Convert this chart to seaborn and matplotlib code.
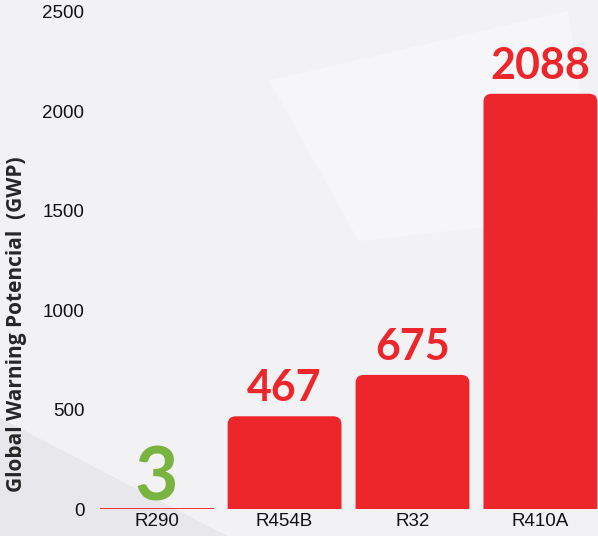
import matplotlib
matplotlib.use("Agg")
import matplotlib.pyplot as plt
import seaborn as sns
import pandas as pd
from matplotlib.patches import FancyBboxPatch, Polygon

# data
refrigerants = ["R290", "R454B", "R32", "R410A"]
gwp_values = [3, 467, 675, 2088]
label_colors = ["#7AB440", "#EC262B", "#EC262B", "#EC262B"]

bar_red = "#EC262B"
bg = "#F2F2F4"

sns.set_style("white")
plt.rcParams["font.family"] = ["Liberation Sans", "DejaVu Sans"]

df = pd.DataFrame({"refrigerant": refrigerants, "gwp": gwp_values})

fig = plt.figure(figsize=(5.98, 5.36), dpi=100, facecolor=bg)

# faint background shapes, drawn behind the chart
bg_ax = fig.add_axes([0, 0, 1, 1], zorder=0)
bg_ax.set_axis_off()
bg_ax.set_xlim(0, 1)
bg_ax.set_ylim(0, 1)
bg_ax.add_patch(Polygon([(0, 0), (0, 0.22), (0.38, 0.0)], closed=True,
                        facecolor="#E8E8EC", edgecolor="none"))
bg_ax.add_patch(Polygon([(0.45, 0.85), (0.95, 0.98), (1.0, 0.6), (0.6, 0.55)],
                        closed=True, facecolor="#F6F6F8", edgecolor="none"))

ax = fig.add_axes([0.155, 0.05, 0.845, 0.928], zorder=1)
ax.patch.set_alpha(0)

sns.barplot(data=df, x="refrigerant", y="gwp", color=bar_red, width=0.89,
            saturation=1, ax=ax)

# swap plain bars for ones with rounded top corners
for p in list(ax.patches):
    x, w, h = p.get_x(), p.get_width(), p.get_height()
    p.set_visible(False)
    if h < 20:
        ax.plot([x, x + w], [h, h], color=bar_red, lw=1.3, solid_capstyle="butt")
        continue
    rb = FancyBboxPatch((x, -100), w, h + 100,
                        boxstyle="round,pad=0,rounding_size=0.065",
                        mutation_aspect=620, facecolor=bar_red,
                        edgecolor="none", clip_on=True)
    ax.add_patch(rb)

ax.set_xlim(-0.5, 3.45)
ax.set_ylim(0, 2500)
ax.set_yticks([0, 500, 1000, 1500, 2000, 2500])

for i, (v, c) in enumerate(zip(gwp_values, label_colors)):
    if i == 0:
        ax.text(i, 45, str(v), ha="center", va="baseline", color=c,
                fontsize=54, fontweight="bold", family=["Lato", "DejaVu Sans"])
    else:
        ax.text(i, v + 75, str(v), ha="center", va="baseline", color=c,
                fontsize=31, fontweight="bold", family=["Lato", "DejaVu Sans"])

for s in ax.spines.values():
    s.set_visible(False)
ax.tick_params(axis="both", length=0, labelsize=13.5, colors="#111111")
ax.tick_params(axis="y", pad=6)
ax.tick_params(axis="x", pad=3)
ax.set_xlabel("")
ax.set_ylabel("Global Warning Potencial  (GWP)", fontsize=15, fontweight="bold",
              family=["Open Sans", "DejaVu Sans"])
ax.yaxis.set_label_coords(-0.1498, 0.371)
ax.yaxis.label.set_verticalalignment("center")

fig.savefig("out.png", dpi=100, facecolor=bg)
